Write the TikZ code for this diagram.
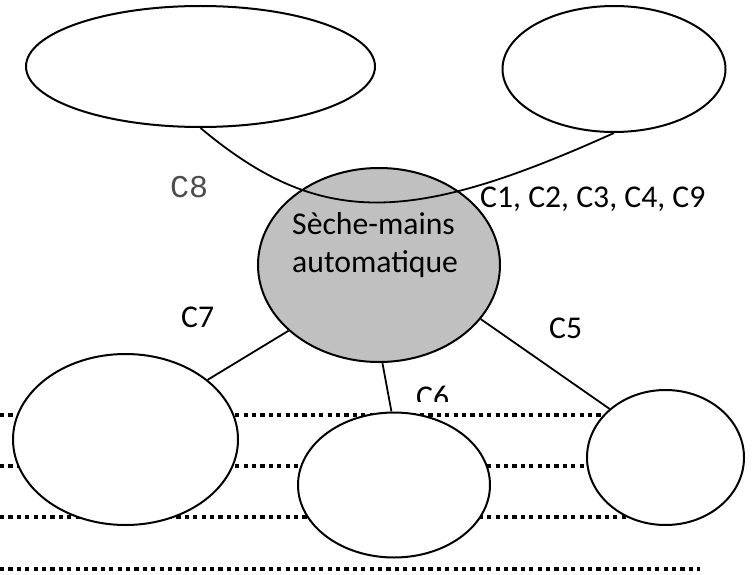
\documentclass[tikz,border=0pt]{standalone}
\usepackage{fontspec}
\setmainfont{Carlito}
\newfontfamily\codefont{Liberation Mono}
\usetikzlibrary{shapes.geometric}
\definecolor{smgray}{RGB}{192,192,192}

\begin{document}
\begin{tikzpicture}[x=1pt,y=-1pt,
    bulle/.style={draw, ellipse, line width=2pt, fill=white, inner sep=0pt},
    lien/.style={line width=1.8pt},
    pointille/.style={line width=3.4pt, dash pattern=on 4.2pt off 4.2pt},
    crit/.style={anchor=base west, inner sep=0pt, font=\fontsize{31.7}{38}\selectfont}]
    \useasboundingbox (0,0) rectangle (752,575);
    % lignes pointillees
    \draw[pointille] (0,415) -- (620,415);
    \draw[pointille] (0,466) -- (620,466);
    \draw[pointille] (0,517) -- (640,517);
    \draw[pointille] (0,569) -- (700,569);
    % bulles
    \node[bulle, minimum width=349pt, minimum height=121pt] (tl) at (200.5,66.5) {};
    \node[bulle, minimum width=223pt, minimum height=126pt] (tr) at (614,69) {};
    \node[bulle, minimum width=225pt, minimum height=171pt] (bl) at (125.5,439.5) {};
    \node[bulle, minimum width=192pt, minimum height=145pt] (bm) at (394,485) {};
    \node[bulle, minimum width=157pt, minimum height=135pt] (br) at (665.5,457.5) {};
    \node[bulle, fill=smgray, minimum width=242pt, minimum height=194pt] (sm) at (379,265) {};
    \node[crit, align=left] (smtxt) at (292,272) {Sèche-mains\\automatique};
    % liens
    \draw[lien] (tl.south) .. controls (320,228) and (410,225) .. (tr.south);
    \draw[lien] (sm.216) -- (bl.36);
    \draw[lien] (sm.272) -- (bm.92);
    \draw[lien] (sm.-28) -- (br.139);
    % criteres
    \node[crit, font=\fontsize{31.7}{38}\selectfont\codefont, text=black!70] (c8) at (170,197) {C8};
    \node[crit] (c1) at (480,207) {C1, C2, C3, C4, C9};
    \node[crit] (c7) at (181,327) {C7};
    \node[crit] (c5) at (549,338) {C5};
    \begin{scope}
        \clip (400,375) rectangle (470,401);
        \node[crit] (c6) at (416,407) {C6};
    \end{scope}
\end{tikzpicture}
\end{document}
